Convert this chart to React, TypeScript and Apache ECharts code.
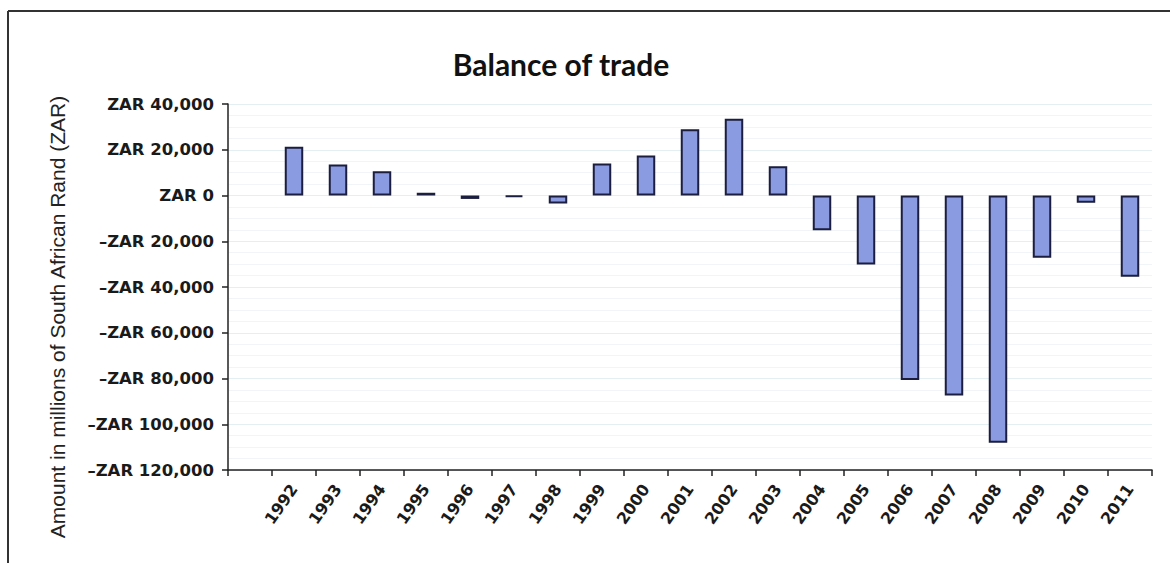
import React, { useEffect, useRef } from "react";
import * as echarts from "echarts";

const years = ["1992","1993","1994","1995","1996","1997","1998","1999","2000","2001","2002","2003","2004","2005","2006","2007","2008","2009","2010","2011"];
const balance = [21300, 13500, 10600, 1200, -1500, -700, -3500, 14000, 17500, 29000, 33500, 12800, -15200, -30200, -80700, -87400, -108100, -27200, -3200, -35500];
const yTicks = { min: -120000, max: 40000, interval: 20000 };
const yAxisTitle = "Amount in millions of South African Rand (ZAR)";

const fmt = (v: number) => {
  if (v === 0) return "ZAR 0";
  const s = Math.abs(v).toLocaleString("en-US");
  return (v < 0 ? "\u2013" : "") + "ZAR " + s;
};

export default function App() {
  const ref = useRef<HTMLDivElement>(null);
  useEffect(() => {
    if (!ref.current) return;
    const chart = echarts.init(ref.current, null, { renderer: "svg" });
    const cats = [""].concat(years);
    const vals: (number | null)[] = [null as number | null].concat(balance);
    chart.setOption({
      animation: false,
      backgroundColor: "#ffffff",
      title: {
        text: "Balance of trade",
        left: 556,
        textAlign: "center",
        top: 44,
        textStyle: { fontFamily: "Lato", fontWeight: "bold", fontSize: 30, color: "#111" },
      },
      grid: { left: 228, right: 18, top: 104, bottom: 93 },
      xAxis: {
        type: "category",
        data: cats,
        axisLine: { onZero: false, lineStyle: { color: "#222", width: 1.5 } },
        axisTick: { show: true, length: 6, lineStyle: { color: "#222", width: 1.5 } },
        axisLabel: {
          rotate: 55,
          interval: 0,
          margin: 16,
          fontFamily: "DejaVu Sans",
          fontWeight: "bold",
          fontSize: 16,
          color: "#1a1a1a",
        },
      },
      yAxis: {
        type: "value",
        min: yTicks.min,
        max: yTicks.max,
        interval: yTicks.interval,
        axisLine: { show: true, lineStyle: { color: "#222", width: 1.5 } },
        axisTick: { show: true, length: 6, lineStyle: { color: "#222", width: 1.5 } },
        axisLabel: {
          formatter: fmt,
          margin: 14,
          fontFamily: "DejaVu Sans",
          fontWeight: "bold",
          fontSize: 16.5,
          color: "#1a1a1a",
        },
        splitLine: { show: true, lineStyle: { color: "#e4eff3", width: 1 } },
        minorTick: { show: false, splitNumber: 4 },
        minorSplitLine: { show: true, lineStyle: { color: "#f1f5f7", width: 1 } },
      },
      series: [
        {
          type: "bar",
          data: vals,
          barWidth: "42%",
          itemStyle: { color: "#8a9be2", borderColor: "#1b1e3e", borderWidth: 2 },
        },
      ],
      graphic: [
        { type: "line", shape: { x1: 8, y1: 11, x2: 1170, y2: 11 }, style: { stroke: "#333", lineWidth: 2 } },
        { type: "line", shape: { x1: 8, y1: 11, x2: 8, y2: 563 }, style: { stroke: "#333", lineWidth: 2 } },
        {
          type: "text",
          x: 57,
          y: 317,
          rotation: Math.PI / 2,
          style: {
            text: yAxisTitle,
            fontFamily: "Liberation Sans",
            fontSize: 21,
            fill: "#222",
            align: "center",
            verticalAlign: "middle",
          },
        },
      ],
    });
    return () => chart.dispose();
  }, []);
  return <div ref={ref} style={{ position: "absolute", left: 0, top: 0, width: 1170, height: 563 }} />;
}
